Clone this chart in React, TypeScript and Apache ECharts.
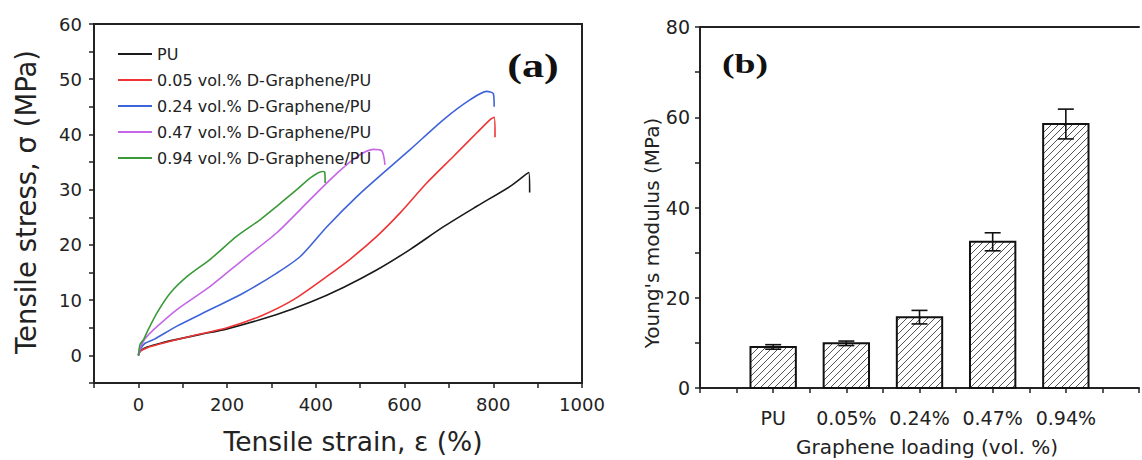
import React, { useEffect, useRef } from "react";
import * as echarts from "echarts";

// ---------- Panel (a): stress-strain curves ----------
const curveNames = [
  "PU",
  "0.05 vol.% D-Graphene/PU",
  "0.24 vol.% D-Graphene/PU",
  "0.47 vol.% D-Graphene/PU",
  "0.94 vol.% D-Graphene/PU",
];
const curveColors = ["#1a1a1a", "#ee3434", "#3f63d8", "#c466e6", "#3a9a3a"];

const puCurve = [
  [0, 0], [5, 0.8], [20, 1.5], [50, 2.2], [87, 2.9], [140, 3.8], [200, 4.8],
  [312, 7.4], [387, 9.6], [462, 12.3], [538, 15.5], [613, 19.2], [688, 23.3],
  [763, 27], [838, 30.6], [880, 33.1], [882, 29.5],
];
const g005Curve = [
  [0, 0], [5, 0.8], [20, 1.4], [50, 2.1], [125, 3.6], [200, 5.0], [275, 7.1],
  [350, 10.1], [425, 14.3], [477, 17.4], [538, 21.6], [590, 25.8], [650, 31.2],
  [710, 36], [763, 40.3], [793, 42.7], [802, 43.1], [804, 39.5],
];
const g024Curve = [
  [0, 0], [5, 1.2], [15, 2.2], [35, 2.9], [87, 5.3], [162, 8.3], [237, 11.3],
  [312, 14.9], [365, 17.9], [425, 23.3], [493, 28.8], [560, 33.6], [613, 37.3],
  [688, 42.7], [748, 46.3], [785, 47.8], [800, 47.4], [802, 45],
];
const g047Curve = [
  [0, 0], [5, 1.5], [15, 3], [35, 4.7], [87, 8.3], [162, 12.5], [237, 17.4],
  [312, 22.2], [387, 28.2], [448, 33], [493, 36], [530, 37.3], [549, 37], [556, 34.5],
];
const g094Curve = [
  [0, 0], [4, 2], [12, 2.9], [20, 4.3], [42, 7.7], [72, 11.3], [110, 14.3],
  [162, 17.4], [222, 21.6], [275, 24.6], [312, 27], [357, 30], [387, 32.1],
  [414, 33.3], [420, 33.2], [421, 31.2],
];
const curves = [puCurve, g005Curve, g024Curve, g047Curve, g094Curve];

// ---------- Panel (b): Young's modulus bars ----------
const loadings = ["PU", "0.05%", "0.24%", "0.47%", "0.94%"];
const modulus = [9.1, 9.9, 15.7, 32.4, 58.5];
const modulusErr = [0.5, 0.5, 1.5, 2.0, 3.3];

const FONT = "DejaVu Sans";
const INK = "#222";

function renderHatchBar(params: any, api: any) {
  const x = api.value(0);
  const v = api.value(1);
  const top = api.coord([x, v]);
  const base = api.coord([x, 0]);
  const w = api.size([0.62, 0])[0];
  const left = top[0] - w / 2;
  const right = left + w;
  const y0 = top[1];
  const y1 = base[1];
  const children: any[] = [];
  const s = 7;
  const cStart = Math.ceil((left + y0) / s) * s;
  for (let c = cStart; c <= right + y1; c += s) {
    const xa = Math.max(left, c - y1);
    const xb = Math.min(right, c - y0);
    if (xb <= xa) continue;
    children.push({
      type: "line",
      shape: { x1: xa, y1: c - xa, x2: xb, y2: c - xb },
      style: { stroke: "#555", lineWidth: 1 },
    });
  }
  children.push({
    type: "rect",
    shape: { x: left, y: y0, width: w, height: y1 - y0 },
    style: { fill: "none", stroke: "#111", lineWidth: 2 },
  });
  return { type: "group", children };
}

function renderErrorBar(params: any, api: any) {
  const x = api.value(0);
  const v = api.value(1);
  const e = api.value(2);
  const hi = api.coord([x, v + e]);
  const lo = api.coord([x, v - e]);
  const cap = 8;
  const st = { stroke: "#111", lineWidth: 1.6 };
  return {
    type: "group",
    children: [
      { type: "line", shape: { x1: hi[0], y1: hi[1], x2: lo[0], y2: lo[1] }, style: st },
      { type: "line", shape: { x1: hi[0] - cap, y1: hi[1], x2: hi[0] + cap, y2: hi[1] }, style: st },
      { type: "line", shape: { x1: lo[0] - cap, y1: lo[1], x2: lo[0] + cap, y2: lo[1] }, style: st },
    ],
  };
}

const axisLineStyle = { show: true, onZero: false, lineStyle: { color: INK, width: 2 } };
const tickStyle = { show: true, inside: false, length: 5, lineStyle: { color: INK, width: 1.5 } };

export default function App() {
  const ref = useRef<HTMLDivElement>(null);
  useEffect(() => {
    if (!ref.current) return;
    const chart = echarts.init(ref.current, undefined, { renderer: "svg" });
    const option: any = {
      animation: false,
      backgroundColor: "#fff",
      grid: [
        { left: 94, top: 24, width: 488, height: 359, show: true, borderColor: INK, borderWidth: 2, backgroundColor: "transparent" },
        { left: 700, top: 27, right: -9, height: 361, show: false },
      ],
      legend: {
        data: curveNames,
        orient: "vertical",
        left: 113,
        top: 41,
        icon: "rect",
        itemWidth: 34,
        itemHeight: 2,
        itemGap: 10,
        textStyle: { fontFamily: FONT, fontSize: 16, color: INK, lineHeight: 14 },
      },
      xAxis: [
        {
          type: "value", gridIndex: 0, min: -100, max: 1000, interval: 100,
          axisLine: axisLineStyle, axisTick: tickStyle, splitLine: { show: false },
          axisLabel: {
            fontFamily: FONT, fontSize: 18, color: INK, margin: 12,
            formatter: (v: number) => (v >= 0 && v % 200 === 0 ? String(v) : ""),
          },
        },
        {
          type: "value", gridIndex: 1, min: 0, max: 6, interval: 0.5,
          axisLine: axisLineStyle, axisTick: tickStyle, splitLine: { show: false },
          axisLabel: {
            fontFamily: FONT, fontSize: 19, color: INK, margin: 20,
            formatter: (v: number) =>
              Number.isInteger(v) && v >= 1 && v <= loadings.length ? loadings[v - 1] : "",
          },
        },
        {
          type: "value", gridIndex: 1, position: "top", min: 0, max: 6,
          axisLine: axisLineStyle, axisTick: { show: false }, axisLabel: { show: false },
          splitLine: { show: false },
        },
      ],
      yAxis: [
        {
          type: "value", gridIndex: 0, min: -5, max: 60, interval: 5,
          axisLine: axisLineStyle, axisTick: tickStyle, splitLine: { show: false },
          axisLabel: {
            fontFamily: FONT, fontSize: 18, color: INK, margin: 12,
            formatter: (v: number) => (v >= 0 && v % 10 === 0 ? String(v) : ""),
          },
        },
        {
          type: "value", gridIndex: 1, min: 0, max: 80, interval: 10,
          axisLine: axisLineStyle, axisTick: tickStyle, splitLine: { show: false },
          axisLabel: {
            fontFamily: FONT, fontSize: 19, color: INK, margin: 10,
            formatter: (v: number) => (v % 20 === 0 ? String(v) : ""),
          },
        },
      ],
      series: [
        ...curves.map((d, i) => ({
          type: "line",
          name: curveNames[i],
          xAxisIndex: 0,
          yAxisIndex: 0,
          data: d,
          symbol: "none",
          showSymbol: false,
          smooth: 0.25,
          lineStyle: { color: curveColors[i], width: 1.6 },
          itemStyle: { color: curveColors[i] },
          z: 3,
        })),
        {
          type: "custom",
          name: "modulus",
          xAxisIndex: 1,
          yAxisIndex: 1,
          data: modulus.map((v, i) => [i + 1, v]),
          encode: { x: 0, y: 1 },
          renderItem: renderHatchBar,
          z: 3,
        },
        {
          type: "custom",
          name: "modulusErr",
          xAxisIndex: 1,
          yAxisIndex: 1,
          data: modulus.map((v, i) => [i + 1, v, modulusErr[i]]),
          encode: { x: 0, y: 1 },
          renderItem: renderErrorBar,
          z: 4,
        },
      ],
      graphic: [
        {
          type: "text", x: 26, y: 202, rotation: Math.PI / 2,
          style: { text: "Tensile stress, σ (MPa)", fontFamily: FONT, fontSize: 27.5, fill: INK, align: "center", verticalAlign: "middle", textAlign: "center", textVerticalAlign: "middle" },
        },
        {
          type: "text", x: 353, y: 441,
          style: { text: "Tensile strain, ε (%)", fontFamily: FONT, fontSize: 26.5, fill: INK, align: "center", verticalAlign: "middle", textAlign: "center", textVerticalAlign: "middle" },
        },
        {
          type: "text", x: 652, y: 233, rotation: Math.PI / 2,
          style: { text: "Young's modulus (MPa)", fontFamily: FONT, fontSize: 20, fill: INK, align: "center", verticalAlign: "middle", textAlign: "center", textVerticalAlign: "middle" },
        },
        {
          type: "text", x: 927, y: 447,
          style: { text: "Graphene loading (vol. %)", fontFamily: FONT, fontSize: 20, fill: INK, align: "center", verticalAlign: "middle", textAlign: "center", textVerticalAlign: "middle" },
        },
        {
          type: "text", x: 533, y: 66, scaleX: 1.3,
          style: { text: "(a)", fontFamily: "Liberation Serif", fontWeight: "bold", fontSize: 34, fill: "#111", align: "center", verticalAlign: "middle", textAlign: "center", textVerticalAlign: "middle" },
        },
        {
          type: "text", x: 745, y: 63, scaleX: 1.35,
          style: { text: "(b)", fontFamily: "Liberation Serif", fontWeight: "bold", fontSize: 28, fill: "#111", align: "center", verticalAlign: "middle", textAlign: "center", textVerticalAlign: "middle" },
        },
      ],
    };
    chart.setOption(option);
    return () => chart.dispose();
  }, []);
  return (
    <div
      ref={ref}
      style={{ position: "absolute", left: 0, top: 0, width: 1142, height: 460, background: "#fff" }}
    />
  );
}
